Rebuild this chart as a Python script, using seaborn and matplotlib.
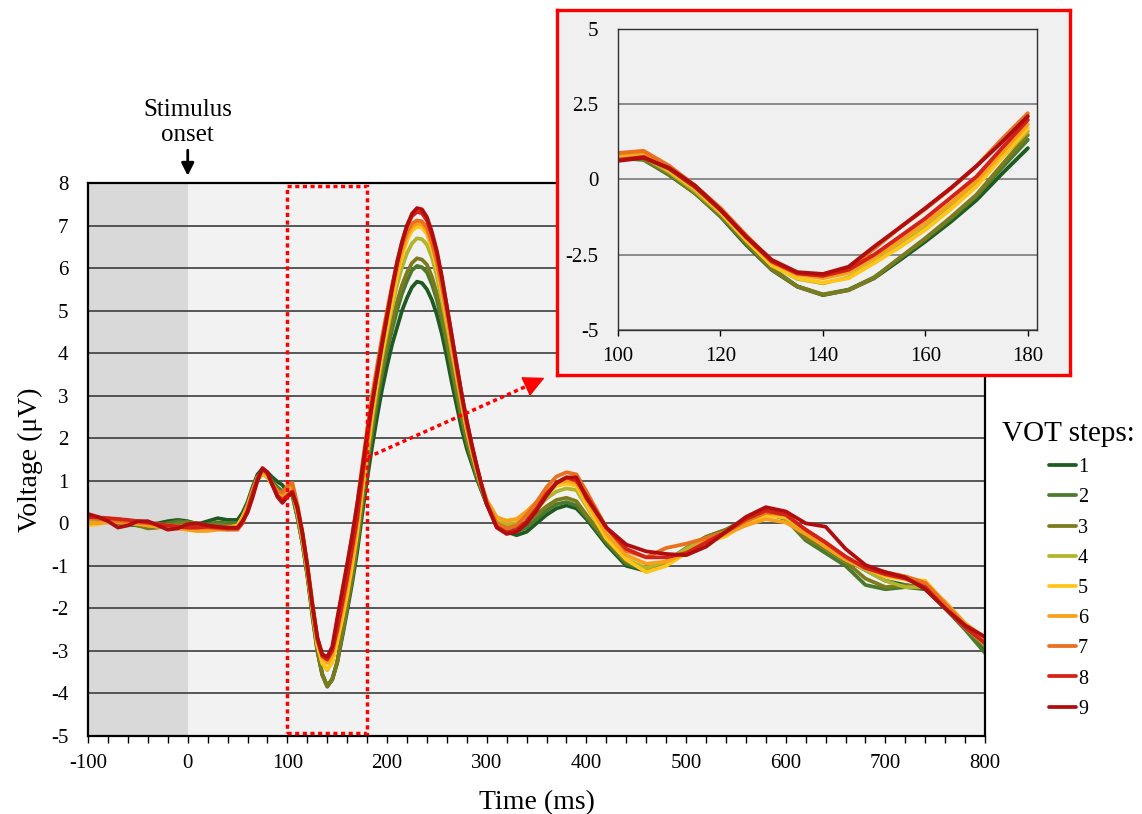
import numpy as np
import pandas as pd
import seaborn as sns
import matplotlib.pyplot as plt
from matplotlib.patches import Rectangle
from matplotlib.ticker import MultipleLocator

# sampling times (ms)
time_ms = ([-100, -90, -80, -70, -60, -50, -40, -30, -20, -10, 0, 10, 20, 30, 40]
           + list(range(50, 305, 5))
           + [310, 320, 330, 340, 350, 360, 370, 380, 390, 400]
           + [420, 440, 460, 480, 500, 520, 540, 560, 580, 600, 620, 640, 660, 680, 700, 720, 740, 760, 780, 800])

vot_1 = [0.05, 0.05, 0.03, 0.0, -0.03, -0.05, -0.03, 0.0, 0.05, 0.08, 0.05, -0.02, 0.05, 0.12, 0.08,
         0.08, 0.25, 0.5, 0.85, 1.15, 1.28, 1.2, 1.08, 0.98, 0.9, 0.72, 0.68, 0.15, -0.45, -1.23, -2.17, -3.0, -3.56, -3.84, -3.67, -3.28, -2.68, -2.06,
         -1.4, -0.68, 0.2, 1.04, 1.8, 2.5, 3.15, 3.7, 4.2, 4.6, 5.0, 5.3, 5.55, 5.68, 5.65, 5.5, 5.25, 4.9, 4.45, 3.9, 3.3, 2.75, 2.2, 1.75, 1.4, 1.05, 0.75, 0.45,
         0.0, -0.2, -0.28, -0.2, 0.0, 0.2, 0.35, 0.42, 0.35, 0.1,
         -0.5, -1.0, -1.12, -0.92, -0.65, -0.4, -0.2, 0.1, 0.25, 0.15, -0.3, -0.55, -0.85, -1.1, -1.35, -1.45, -1.55, -1.95, -2.4, -2.95]
vot_2 = [0.1, 0.08, 0.05, 0.02, 0.0, -0.05, -0.08, -0.05, 0.0, 0.05, 0.02, -0.05, -0.02, 0.02, 0.0,
         -0.02, 0.15, 0.45, 0.8, 1.1, 1.22, 1.15, 0.98, 0.85, 0.75, 0.72, 0.65, 0.15, -0.45, -1.2, -2.1, -2.95, -3.55, -3.82, -3.66, -3.25, -2.62, -1.98,
         -1.3, -0.55, 0.4, 1.32, 2.1, 2.85, 3.5, 4.05, 4.55, 5.0, 5.4, 5.7, 5.95, 6.05, 6.02, 5.9, 5.62, 5.25, 4.75, 4.2, 3.6, 3.0, 2.42, 1.9, 1.48, 1.1, 0.77, 0.45,
         0.0, -0.18, -0.2, -0.1, 0.1, 0.3, 0.45, 0.5, 0.42, 0.15,
         -0.45, -0.95, -1.1, -0.9, -0.6, -0.32, -0.15, 0.1, 0.25, 0.1, -0.4, -0.7, -1.0, -1.45, -1.55, -1.5, -1.55, -2.0, -2.5, -3.05]
vot_3 = [0.0, 0.05, 0.1, 0.1, 0.05, -0.05, -0.12, -0.1, -0.05, 0.0, 0.03, 0.0, -0.05, -0.03, -0.05,
         -0.05, 0.12, 0.42, 0.78, 1.08, 1.2, 1.12, 0.95, 0.8, 0.7, 0.72, 0.68, 0.18, -0.45, -1.2, -2.12, -2.98, -3.55, -3.83, -3.68, -3.27, -2.6, -1.95,
         -1.25, -0.5, 0.5, 1.48, 2.28, 3.0, 3.65, 4.2, 4.72, 5.2, 5.6, 5.9, 6.12, 6.23, 6.2, 6.08, 5.8, 5.4, 4.88, 4.3, 3.7, 3.1, 2.52, 2.0, 1.55, 1.15, 0.8, 0.5,
         0.1, -0.08, -0.1, 0.0, 0.2, 0.4, 0.55, 0.6, 0.52, 0.2,
         -0.4, -0.9, -1.08, -0.9, -0.58, -0.32, -0.15, 0.1, 0.25, 0.1, -0.35, -0.6, -0.9, -1.3, -1.5, -1.45, -1.5, -1.95, -2.45, -2.9]
vot_4 = [0.05, 0.08, 0.12, 0.1, 0.05, 0.0, -0.05, -0.08, -0.05, -0.08, -0.1, -0.12, -0.1, -0.08, -0.1,
         -0.08, 0.1, 0.38, 0.72, 1.02, 1.15, 1.08, 0.9, 0.75, 0.68, 0.75, 0.75, 0.25, -0.38, -1.12, -2.02, -2.85, -3.3, -3.45, -3.25, -2.75, -2.2, -1.6,
         -0.9, -0.15, 0.75, 1.6, 2.45, 3.2, 3.9, 4.5, 5.08, 5.6, 6.02, 6.35, 6.58, 6.7, 6.68, 6.55, 6.25, 5.8, 5.25, 4.65, 4.02, 3.4, 2.78, 2.2, 1.7, 1.25, 0.85, 0.5,
         0.08, -0.02, 0.0, 0.15, 0.35, 0.58, 0.75, 0.82, 0.78, 0.4,
         -0.35, -0.85, -1.05, -0.9, -0.6, -0.35, -0.2, 0.05, 0.22, 0.12, -0.2, -0.55, -0.85, -1.1, -1.35, -1.5, -1.5, -1.95, -2.45, -2.85]
vot_5 = [-0.05, -0.02, 0.05, 0.08, 0.05, 0.0, -0.05, -0.05, -0.1, -0.12, -0.15, -0.18, -0.15, -0.12, -0.1,
         -0.05, 0.15, 0.4, 0.75, 1.05, 1.17, 1.1, 0.9, 0.75, 0.68, 0.8, 0.85, 0.3, -0.3, -1.08, -2.0, -2.85, -3.28, -3.43, -3.28, -2.78, -2.25, -1.67,
         -0.98, -0.23, 0.75, 1.7, 2.55, 3.3, 4.0, 4.6, 5.22, 5.8, 6.28, 6.65, 6.88, 6.97, 6.95, 6.8, 6.45, 6.0, 5.42, 4.8, 4.15, 3.5, 2.83, 2.2, 1.7, 1.25, 0.85, 0.5,
         0.12, 0.07, 0.1, 0.25, 0.45, 0.7, 0.88, 0.93, 0.88, 0.45,
         -0.35, -0.85, -1.15, -1.0, -0.7, -0.45, -0.3, 0.0, 0.18, 0.15, -0.15, -0.55, -0.85, -1.05, -1.25, -1.32, -1.35, -1.88, -2.4, -2.75]
vot_6 = [0.0, 0.0, 0.02, 0.02, 0.0, -0.02, -0.05, -0.08, -0.1, -0.12, -0.15, -0.18, -0.18, -0.15, -0.15,
         -0.1, 0.1, 0.38, 0.75, 1.08, 1.22, 1.12, 0.9, 0.7, 0.65, 0.82, 0.9, 0.4, -0.25, -1.0, -1.9, -2.75, -3.15, -3.28, -3.1, -2.6, -2.05, -1.45,
         -0.78, -0.05, 0.9, 1.83, 2.68, 3.45, 4.15, 4.8, 5.4, 5.95, 6.4, 6.75, 6.97, 7.05, 7.03, 6.88, 6.55, 6.1, 5.52, 4.9, 4.22, 3.55, 2.9, 2.3, 1.78, 1.3, 0.9, 0.55,
         0.15, 0.05, 0.1, 0.28, 0.5, 0.75, 0.95, 1.0, 0.95, 0.55,
         -0.25, -0.75, -0.95, -0.9, -0.7, -0.4, -0.25, -0.05, 0.1, 0.02, -0.25, -0.55, -0.85, -1.05, -1.15, -1.25, -1.4, -1.85, -2.35, -2.7]
vot_7 = [0.12, 0.1, 0.08, 0.05, 0.03, 0.02, 0.0, -0.02, -0.05, -0.08, -0.1, -0.1, -0.1, -0.12, -0.15,
         -0.15, 0.0, 0.3, 0.7, 1.05, 1.25, 1.15, 0.92, 0.75, 0.72, 0.88, 0.95, 0.45, -0.2, -0.95, -1.85, -2.7, -3.1, -3.2, -2.95, -2.3, -1.6, -0.98,
         -0.3, 0.45, 1.35, 2.2, 3.0, 3.7, 4.38, 5.0, 5.58, 6.1, 6.52, 6.85, 7.05, 7.12, 7.1, 6.95, 6.6, 6.15, 5.58, 4.95, 4.28, 3.6, 2.93, 2.3, 1.78, 1.3, 0.88, 0.5,
         0.0, -0.12, -0.05, 0.2, 0.5, 0.85, 1.1, 1.2, 1.15, 0.75,
         -0.1, -0.65, -0.8, -0.58, -0.48, -0.35, -0.2, 0.05, 0.25, 0.2, -0.15, -0.45, -0.8, -1.05, -1.15, -1.25, -1.4, -1.9, -2.4, -2.75]
vot_8 = [0.15, 0.14, 0.12, 0.1, 0.08, 0.05, 0.02, -0.02, -0.05, -0.08, -0.1, -0.1, -0.08, -0.1, -0.12,
         -0.12, 0.02, 0.3, 0.68, 1.05, 1.28, 1.18, 0.9, 0.65, 0.55, 0.65, 0.75, 0.35, -0.25, -1.02, -1.92, -2.72, -3.12, -3.2, -3.0, -2.5, -1.9, -1.29,
         -0.6, 0.1, 1.05, 1.98, 2.8, 3.55, 4.25, 4.9, 5.55, 6.15, 6.62, 7.0, 7.22, 7.32, 7.29, 7.12, 6.78, 6.35, 5.75, 5.1, 4.4, 3.7, 3.02, 2.4, 1.85, 1.35, 0.88, 0.45,
         -0.08, -0.22, -0.15, 0.05, 0.35, 0.7, 0.95, 1.08, 1.0, 0.65,
         -0.1, -0.6, -0.8, -0.8, -0.7, -0.45, -0.2, 0.1, 0.3, 0.2, -0.15, -0.45, -0.78, -1.05, -1.2, -1.3, -1.5, -2.0, -2.45, -2.82]
vot_9 = [0.22, 0.15, 0.05, -0.1, -0.05, 0.05, 0.05, -0.05, -0.15, -0.12, -0.02, 0.0, -0.05, -0.08, -0.1,
         -0.1, 0.05, 0.25, 0.6, 1.0, 1.3, 1.2, 0.9, 0.62, 0.48, 0.62, 0.72, 0.38, -0.2, -1.0, -1.9, -2.67, -3.08, -3.14, -2.9, -2.23, -1.6, -0.95,
         -0.28, 0.45, 1.25, 2.1, 2.82, 3.5, 4.2, 4.85, 5.5, 6.1, 6.6, 7.0, 7.28, 7.41, 7.38, 7.2, 6.85, 6.4, 5.8, 5.1, 4.4, 3.7, 3.02, 2.4, 1.85, 1.35, 0.88, 0.45,
         -0.1, -0.25, -0.2, 0.0, 0.3, 0.65, 0.95, 1.08, 1.08, 0.6,
         -0.1, -0.5, -0.66, -0.72, -0.75, -0.55, -0.2, 0.15, 0.38, 0.28, 0.0, -0.08, -0.6, -0.98, -1.15, -1.27, -1.55, -2.0, -2.4, -2.67]

vot_labels = ['1', '2', '3', '4', '5', '6', '7', '8', '9']
vot_colors = ['#1f5a22', '#4b7a2c', '#7b7b1e', '#b1b52c', '#ffc519', '#f8a01c', '#e8701e', '#d42218', '#b00e0e']

series = [vot_1, vot_2, vot_3, vot_4, vot_5, vot_6, vot_7, vot_8, vot_9]
frames = []
for name, vals in zip(vot_labels, series):
    frames.append(pd.DataFrame({'Time': time_ms, 'Voltage': vals, 'VOT': name}))
df = pd.concat(frames, ignore_index=True)

sns.set_theme(style="white")
plt.rcParams['font.family'] = ['Liberation Serif', 'DejaVu Serif']
plt.rcParams['axes.unicode_minus'] = False
for key in ['text.color', 'axes.labelcolor', 'xtick.color', 'ytick.color']:
    plt.rcParams[key] = 'black'

fig = plt.figure(figsize=(11.42, 8.14), dpi=100)
ax = fig.add_axes([0.0771, 0.0958, 0.7855, 0.6794])
ax.set_facecolor('#f2f2f2')

sns.lineplot(data=df, x='Time', y='Voltage', hue='VOT', hue_order=vot_labels,
             palette=vot_colors, lw=2.7, estimator=None, solid_joinstyle='round', ax=ax)
handles, labels = ax.get_legend_handles_labels()
ax.get_legend().remove()

ax.axvspan(-100, 0, color='#d9d9d9', zorder=0.1, lw=0)
ax.set_xlim(-100, 800)
ax.set_ylim(-5, 8)
ax.set_axisbelow(True)
ax.yaxis.grid(True, color='#3c3c3c', lw=1.2)
ax.xaxis.grid(False)
ax.set_yticks(range(-5, 9))
ax.xaxis.set_major_locator(MultipleLocator(100))
ax.xaxis.set_minor_locator(MultipleLocator(20))
ax.tick_params(axis='x', which='both', direction='out', length=5, width=1, color='black',
               bottom=True, labelsize=15, pad=8)
ax.tick_params(axis='y', length=0, labelsize=15, pad=14)
for s in ax.spines.values():
    s.set_color('black')
    s.set_linewidth(1.6)
ax.set_xlabel('Time (ms)', fontsize=20, labelpad=12)
ax.set_ylabel('Voltage (μV)', fontsize=20, labelpad=6)

# zoom window and pointer
ax.add_patch(Rectangle((100, -4.93), 80, 12.86, fill=False, ec='#ff0000', lw=2.5,
                       ls=(0, (1.2, 1.0)), zorder=5))
ax.plot([180.5, 352], [1.55, 3.35], color='#ff0000', lw=2.5, ls=(0, (1.2, 1.0)), zorder=5)
ax.annotate('', xy=(358, 3.42), xytext=(346, 3.29),
            arrowprops=dict(arrowstyle='-|>,head_length=0.9,head_width=0.45', color='#ff0000',
                            lw=1, shrinkA=0, shrinkB=0, mutation_scale=15),
            zorder=5)

ax.annotate('Stimulus\nonset', xy=(0, 8.17), xytext=(0, 8.88), ha='center', va='bottom',
            fontsize=18, linespacing=1.15, annotation_clip=False,
            arrowprops=dict(arrowstyle='-|>,head_length=0.5,head_width=0.25', color='black',
                            lw=2, shrinkA=1, shrinkB=0, mutation_scale=15))

# inset box
frame = fig.add_axes([0.4877, 0.5393, 0.4492, 0.4484])
frame.set_facecolor('#f0f0f0')
frame.set_xticks([])
frame.set_yticks([])
for s in frame.spines.values():
    s.set_color('#ff0000')
    s.set_linewidth(2.4)

inset = fig.add_axes([0.5412, 0.5946, 0.3669, 0.3698])
inset.set_facecolor('#f0f0f0')
sns.lineplot(data=df[(df['Time'] >= 100) & (df['Time'] <= 180)], x='Time', y='Voltage', hue='VOT',
             hue_order=vot_labels, palette=vot_colors, lw=2.8, estimator=None, legend=False,
             solid_joinstyle='round', ax=inset)
inset.set_xlim(100, 181.8)
inset.set_ylim(-5, 5)
inset.set_xticks([100, 120, 140, 160, 180])
inset.set_yticks([-5, -2.5, 0, 2.5, 5])
inset.set_yticklabels(['-5', '-2.5', '0', '2.5', '5'])
inset.set_axisbelow(True)
inset.yaxis.grid(True, color='#7a7a7a', lw=1.2)
inset.xaxis.grid(False)
inset.tick_params(axis='x', direction='out', length=4, width=1, bottom=True, labelsize=15, pad=8)
inset.tick_params(axis='y', length=0, labelsize=15, pad=14)
inset.set_xlabel('')
inset.set_ylabel('')
for s in inset.spines.values():
    s.set_color('#303030')
    s.set_linewidth(1.0)

fig.legend(handles, labels, title='VOT steps:', loc='upper left',
           bbox_to_anchor=(984 / 1142, 1 - 403 / 814), frameon=False, fontsize=14.5,
           title_fontsize=21, handlelength=1.35, handletextpad=0.1, labelspacing=0.55)

plt.savefig('out.png', dpi=100)
